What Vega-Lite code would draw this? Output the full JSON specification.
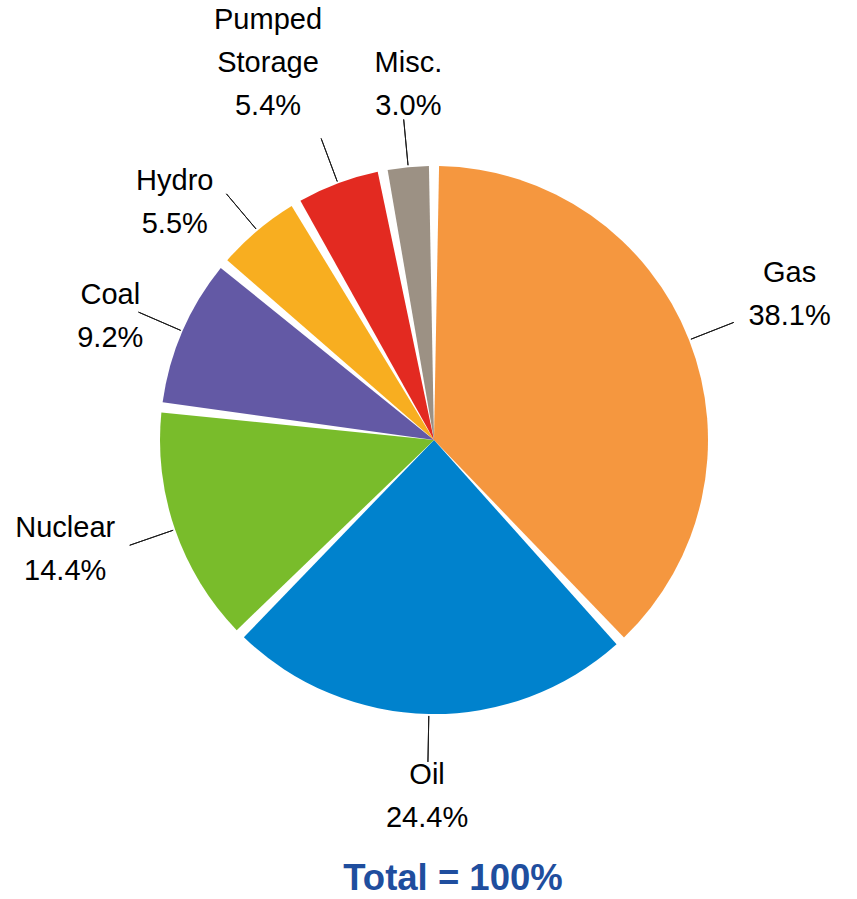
{
  "$schema": "https://vega.github.io/schema/vega-lite/v6.json",
  "width": 868,
  "height": 880,
  "autosize": "none",
  "padding": {"left": 0, "top": 0, "right": 0, "bottom": 19},
  "background": "white",
  "config": {"view": {"stroke": null}},
  "title": {
    "text": "Total = 100%",
    "orient": "bottom",
    "anchor": "middle",
    "baseline": "alphabetic",
    "offset": 10,
    "dx": 19,
    "font": "Liberation Sans",
    "fontSize": 36.5,
    "fontWeight": "bold",
    "color": "#1F4E9E"
  },
  "data": {
    "values": [
      {"source": "Gas", "pct": 38.1, "order": 1},
      {"source": "Oil", "pct": 24.4, "order": 2},
      {"source": "Nuclear", "pct": 14.4, "order": 3},
      {"source": "Coal", "pct": 9.2, "order": 4},
      {"source": "Hydro", "pct": 5.5, "order": 5},
      {"source": "Pumped Storage", "pct": 5.4, "order": 6},
      {"source": "Misc.", "pct": 3.0, "order": 7}
    ]
  },
  "transform": [
    {"window": [{"op": "sum", "field": "pct", "as": "cum"}], "sort": [{"field": "order"}]},
    {"calculate": "datum.cum - datum.pct / 2", "as": "mid"},
    {"calculate": "replace(datum.source, ' ', '\\n') + '\\n' + format(datum.pct, '.1f') + '%'", "as": "label"}
  ],
  "layer": [
    {
      "mark": {"type": "arc", "outerRadius": 274, "padAngle": 0.037},
      "encoding": {
        "theta": {"field": "pct", "type": "quantitative", "stack": true, "scale": {"domain": [0, 100]}},
        "order": {"field": "order", "type": "quantitative"},
        "color": {
          "field": "source",
          "type": "nominal",
          "scale": {
            "domain": ["Gas", "Oil", "Nuclear", "Coal", "Hydro", "Pumped Storage", "Misc."],
            "range": ["#F5973F", "#0082CD", "#79BC2B", "#6359A5", "#F8AE20", "#E32A21", "#9C9184"]
          },
          "legend": null
        }
      }
    },
    {
      "mark": {"type": "arc", "innerRadius": 276, "outerRadius": 322, "filled": false, "stroke": "#1a1a1a", "strokeWidth": 1},
      "encoding": {
        "theta": {"field": "mid", "type": "quantitative", "stack": null, "scale": {"domain": [0, 100]}},
        "theta2": {"field": "mid"}
      }
    },
    {
      "transform": [{"filter": "datum.source === 'Gas'"}],
      "mark": {"type": "text", "radius": 368, "dx": 13, "dy": -32.5, "font": "Liberation Sans", "fontSize": 29, "lineBreak": "\n", "lineHeight": 43, "color": "#000000", "baseline": "middle", "align": "center"},
      "encoding": {
        "theta": {"field": "mid", "type": "quantitative", "stack": null, "scale": {"domain": [0, 100]}},
        "text": {"field": "label", "type": "nominal"}
      }
    },
    {
      "transform": [{"filter": "datum.source === 'Oil'"}],
      "mark": {"type": "text", "radius": 368, "dx": 0, "dy": -32.5, "font": "Liberation Sans", "fontSize": 29, "lineBreak": "\n", "lineHeight": 43, "color": "#000000", "baseline": "middle", "align": "center"},
      "encoding": {
        "theta": {"field": "mid", "type": "quantitative", "stack": null, "scale": {"domain": [0, 100]}},
        "text": {"field": "label", "type": "nominal"}
      }
    },
    {
      "transform": [{"filter": "datum.source === 'Nuclear'"}],
      "mark": {"type": "text", "radius": 368, "dx": -21, "dy": -32.5, "font": "Liberation Sans", "fontSize": 29, "lineBreak": "\n", "lineHeight": 43, "color": "#000000", "baseline": "middle", "align": "center"},
      "encoding": {
        "theta": {"field": "mid", "type": "quantitative", "stack": null, "scale": {"domain": [0, 100]}},
        "text": {"field": "label", "type": "nominal"}
      }
    },
    {
      "transform": [{"filter": "datum.source === 'Coal'"}],
      "mark": {"type": "text", "radius": 368, "dx": 14, "dy": 1.5, "font": "Liberation Sans", "fontSize": 29, "lineBreak": "\n", "lineHeight": 43, "color": "#000000", "baseline": "middle", "align": "center"},
      "encoding": {
        "theta": {"field": "mid", "type": "quantitative", "stack": null, "scale": {"domain": [0, 100]}},
        "text": {"field": "label", "type": "nominal"}
      }
    },
    {
      "transform": [{"filter": "datum.source === 'Hydro'"}],
      "mark": {"type": "text", "radius": 368, "dx": -22, "dy": 22, "font": "Liberation Sans", "fontSize": 29, "lineBreak": "\n", "lineHeight": 43, "color": "#000000", "baseline": "middle", "align": "center"},
      "encoding": {
        "theta": {"field": "mid", "type": "quantitative", "stack": null, "scale": {"domain": [0, 100]}},
        "text": {"field": "label", "type": "nominal"}
      }
    },
    {
      "transform": [{"filter": "datum.source === 'Pumped Storage'"}],
      "mark": {"type": "text", "radius": 368, "dx": -37, "dy": -75, "font": "Liberation Sans", "fontSize": 29, "lineBreak": "\n", "lineHeight": 43, "color": "#000000", "baseline": "middle", "align": "center"},
      "encoding": {
        "theta": {"field": "mid", "type": "quantitative", "stack": null, "scale": {"domain": [0, 100]}},
        "text": {"field": "label", "type": "nominal"}
      }
    },
    {
      "transform": [{"filter": "datum.source === 'Misc.'"}],
      "mark": {"type": "text", "radius": 368, "dx": 9, "dy": -10.5, "font": "Liberation Sans", "fontSize": 29, "lineBreak": "\n", "lineHeight": 43, "color": "#000000", "baseline": "middle", "align": "center"},
      "encoding": {
        "theta": {"field": "mid", "type": "quantitative", "stack": null, "scale": {"domain": [0, 100]}},
        "text": {"field": "label", "type": "nominal"}
      }
    }
  ]
}
